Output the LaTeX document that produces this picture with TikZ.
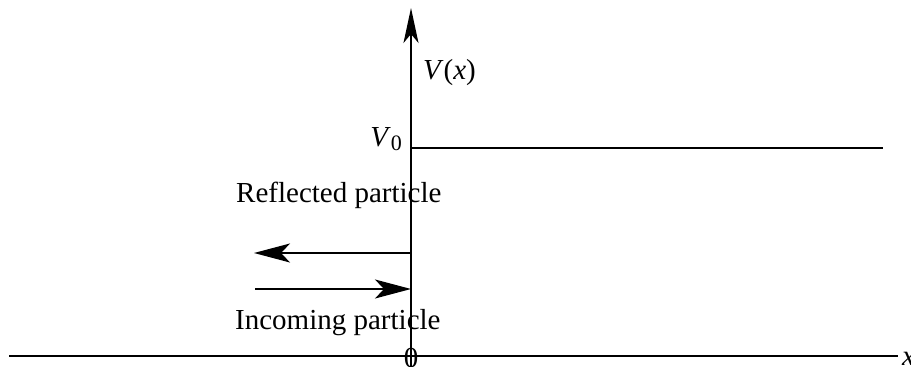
\documentclass[tikz,border=0pt]{standalone}
\usepackage{fontspec}
\setmainfont{Liberation Serif}
\usetikzlibrary{arrows.meta,positioning,calc}

\begin{document}
\begin{tikzpicture}[x=1pt, y=-1pt,
  axis/.style={line width=2pt, line cap=butt},
  parr/.style={-{Stealth[length=36pt, width=19pt, inset=9pt]}, line width=2pt},
  lbl/.style={font=\fontsize{29}{33}\selectfont, inner sep=0pt},
]
\useasboundingbox (0,0) rectangle (911,367);

% Axes
\coordinate (xs) at (9,356);
\coordinate (xe) at (898,356);
\coordinate (o)  at (411,356);
\coordinate (top) at (411,8);
\draw[axis] (xs) -- (xe);
\draw[axis, -{Stealth[length=35pt, width=15pt, inset=9pt]}] ($(o)+(0,11)$) -- (top);

% Potential step
\coordinate (v0) at (411,148);
\coordinate (v0e) at (883,148);
\draw[axis] (v0) -- (v0e);

% Labels
\node[lbl, anchor=east] (v0l) at (402,139) {\textit{V}\raisebox{-0.25ex}{\fontsize{22}{22}\selectfont 0}};
\node[lbl, anchor=west] (vx) at (423,73) {\textit{V}(\textit{x})};
\node[lbl] (zero) at (411,358) {0};
\node[lbl, anchor=west] (xl) at (902,359) {\textit{x}};
\node[lbl, anchor=west] (refl) at (236,195) {Reflected particle};
\node[lbl, anchor=west] (inc) at (235,323) {Incoming particle};

% Particle arrows
\coordinate (r1) at (411,253);
\coordinate (r2) at (254,253);
\coordinate (i1) at (255,289);
\coordinate (i2) at (411,289);
\draw[parr] (r1) -- (r2);
\draw[parr] (i1) -- (i2);
\end{tikzpicture}
\end{document}
